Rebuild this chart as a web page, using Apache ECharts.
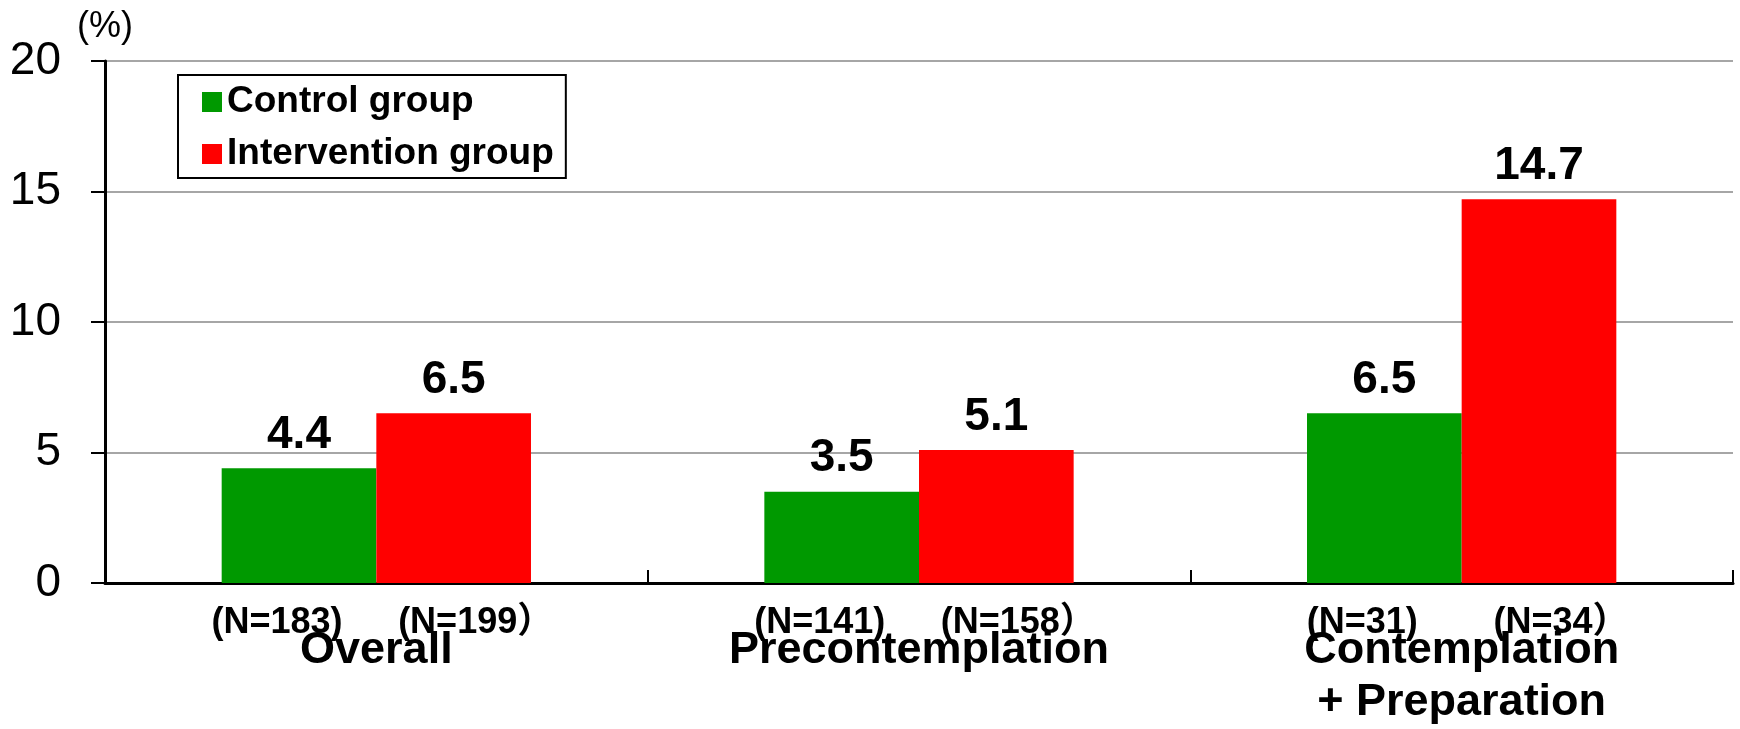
<!DOCTYPE html>
<html>
<head>
<meta charset="utf-8">
<script src="https://cdn.jsdelivr.net/npm/echarts@6/dist/echarts.min.js"></script>
<style>
  html, body { margin: 0; padding: 0; background: #fff; }
  #chart { width: 1740px; height: 729px; }
</style>
</head>
<body>
<div id="chart"></div>
<script>
const categories = ['Overall', 'Precontemplation', 'Contemplation\n+ Preparation']
const controlValues = [4.4, 3.5, 6.5]
const interventionValues = [6.5, 5.1, 14.7]
const controlN = ['(N=183)', '(N=141)', '(N=31)']
const interventionN = ['(N=199）', '(N=158）', '(N=34）']
const yTicks = { min: 0, max: 20, interval: 5 }

const FONT = "'Liberation Sans', Arial, 'Noto Sans CJK JP', sans-serif"

const chart = echarts.init(document.getElementById('chart'))

const valueLabel = {
  show: true,
  position: 'top',
  distance: 10,
  fontFamily: FONT,
  fontSize: 46,
  fontWeight: 'bold',
  color: '#000',
}

// N labels sit under each bar, nudged apart a little like the original
const nLabel = (texts, dx) => ({
  show: true,
  position: 'bottom',
  distance: 22,
  offset: [dx, 0],
  fontFamily: FONT,
  fontSize: 36,
  fontWeight: 'bold',
  color: '#000',
  formatter: (p) => texts[p.dataIndex],
})

const barLayout = {
  barGap: '0%',
  barCategoryGap: '43%',
}

const option = {
  animation: false,
  grid: { left: 105, right: 7, top: 61, bottom: 141 },
  legend: {
    data: ['Control group', 'Intervention group'],
    orient: 'vertical',
    left: 178,
    top: 75,
    padding: [8, 12, 5, 24],
    itemGap: 14,
    itemWidth: 20,
    itemHeight: 20,
    itemTextGap: 7,
    itemStyle: { borderWidth: 0 },
    icon: 'rect',
    borderColor: '#000',
    borderWidth: 2,
    textStyle: {
      fontFamily: FONT,
      fontSize: 37,
      fontWeight: 'bold',
      color: '#000',
      lineHeight: 38,
    },
  },
  xAxis: [
    {
      type: 'category',
      data: categories,
      axisLine: { lineStyle: { color: '#000', width: 3 } },
      axisTick: { show: true, inside: true, length: 13, lineStyle: { color: '#000', width: 2 } },
      axisLabel: {
        margin: 42,
        interval: 0,
        fontFamily: FONT,
        fontSize: 45,
        fontWeight: 'bold',
        color: '#000',
        lineHeight: 52,
      },
    },
    {
      type: 'category',
      data: categories,
      show: false,
    },
  ],
  yAxis: {
    type: 'value',
    min: yTicks.min,
    max: yTicks.max,
    interval: yTicks.interval,
    name: '(%)',
    nameLocation: 'end',
    nameGap: 16,
    nameTextStyle: { fontFamily: FONT, fontSize: 36, color: '#000', align: 'center' },
    axisLine: { show: true, lineStyle: { color: '#000', width: 3 } },
    axisTick: { show: true, length: 14, lineStyle: { color: '#000', width: 2 } },
    axisLabel: { margin: 44, fontFamily: FONT, fontSize: 46, color: '#000' },
    splitLine: { lineStyle: { color: '#a6a6a6', width: 2 } },
  },
  series: [
    {
      name: 'Control group',
      type: 'bar',
      data: controlValues,
      itemStyle: { color: '#009900' },
      label: valueLabel,
      ...barLayout,
    },
    {
      name: 'Intervention group',
      type: 'bar',
      data: interventionValues,
      itemStyle: { color: '#ff0000' },
      label: valueLabel,
      ...barLayout,
    },
    {
      name: 'control-n',
      type: 'bar',
      xAxisIndex: 1,
      data: controlValues,
      itemStyle: { color: 'rgba(0,0,0,0)' },
      silent: true,
      label: nLabel(controlN, -22),
      ...barLayout,
    },
    {
      name: 'intervention-n',
      type: 'bar',
      xAxisIndex: 1,
      data: interventionValues,
      itemStyle: { color: 'rgba(0,0,0,0)' },
      silent: true,
      label: nLabel(interventionN, 22),
      ...barLayout,
    },
  ],
}

chart.setOption(option)
</script>
</body>
</html>
